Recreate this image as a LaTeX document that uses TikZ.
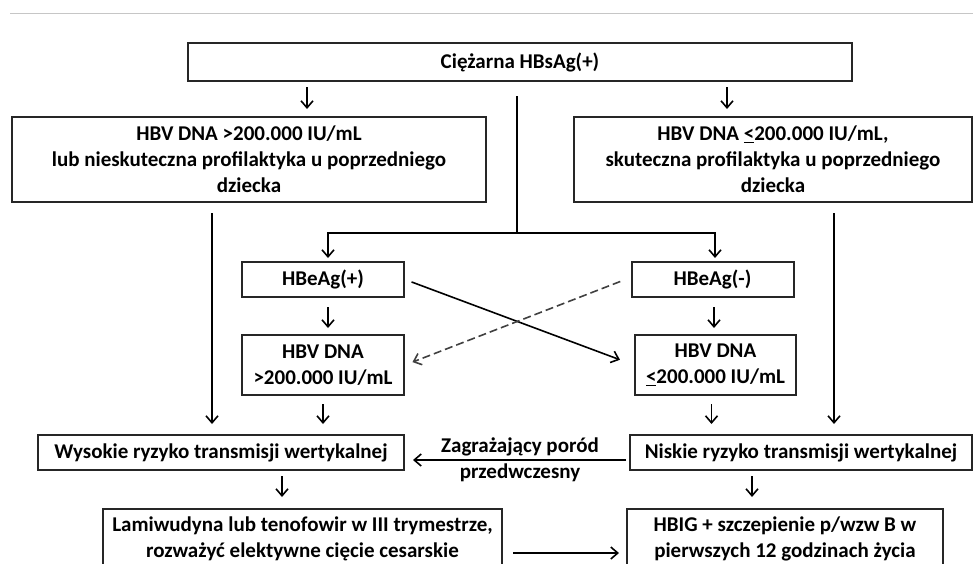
\documentclass[tikz,border=0pt]{standalone}
\usepackage{fontspec}
\setmainfont{Carlito}
\usetikzlibrary{arrows.meta}

\begin{document}
\begin{tikzpicture}[x=1pt, y=-1pt,
	box/.style={draw=black!85, line width=2pt, align=center, inner sep=0pt,
		font=\fontsize{21}{26}\selectfont\bfseries},
	arr/.style={line width=1.6pt, -{Straight Barb[length=7pt, width=12pt, line width=1.6pt]}},
	link/.style={line width=1.6pt}]
	\clip (0,0) rectangle (973,563);
	\draw [gray!45, line width=1pt] (10,13) -- (973,13);
	
	% boxes
	\node [box, minimum width=664, minimum height=38] (top) at (520,62) {Ciężarna HBsAg(+)};
	\node [box, minimum width=474, minimum height=85] (lbox) at (249,159.5)
		{HBV DNA >200.000 IU/mL\\lub nieskuteczna profilaktyka u poprzedniego\\dziecka};
	\node [box, minimum width=398, minimum height=85] (rbox) at (773,159.5)
		{HBV DNA \underline{<}200.000 IU/mL,\\skuteczna profilaktyka u poprzedniego\\dziecka};
	\node [box, minimum width=162, minimum height=35] (hbep) at (323,279.5) {HBeAg(+)};
	\node [box, minimum width=162, minimum height=35] (hben) at (712.5,279.5) {HBeAg(-)};
	\node [box, minimum width=162, minimum height=60] (dnahi) at (323,365) {HBV DNA\\>200.000 IU/mL};
	\node [box, minimum width=161, minimum height=60] (dnalo) at (715.5,365) {HBV DNA\\\underline{<}200.000 IU/mL};
	\node [box, minimum width=366, minimum height=35] (wys) at (221,452.5) {Wysokie ryzyko transmisji wertykalnej};
	\node [box, minimum width=342, minimum height=35] (nis) at (801,452.5) {Niskie ryzyko transmisji wertykalnej};
	\node [box, minimum width=399, minimum height=75, text depth=18pt] (lam) at (302.5,546.5)
		{Lamiwudyna lub tenofowir w III trymestrze,\\rozważyć elektywne cięcie cesarskie};
	\node [box, minimum width=316, minimum height=75, text depth=18pt] (hbig) at (785,546.5)
		{HBIG + szczepienie p/wzw B w\\pierwszych 12 godzinach życia};
	
	% from the top box
	\draw [arr, shorten <=5pt, shorten >=7pt] ([xshift=-213pt]top.south) -- ([xshift=-213pt]top.south |- lbox.north);
	\draw [arr, shorten <=5pt, shorten >=7pt] ([xshift=207pt]top.south) -- ([xshift=207pt]top.south |- rbox.north);
	\coordinate (split) at (517,233);
	\draw [link] ([xshift=-3pt, yshift=-14pt]top.south) -- (split);
	\draw [arr, shorten >=3pt] (split) -| ([xshift=5pt]hbep.north);
	\draw [arr, shorten >=3pt] (split) -| ([xshift=2.5pt]hben.north);
	
	% HBeAg branches
	\draw [arr, shorten <=9pt, shorten >=6pt] ([xshift=5pt]hbep.south) -- ([xshift=5pt]hbep.south |- dnahi.north);
	\draw [arr, shorten <=9pt, shorten >=6pt] ([xshift=1.5pt]hben.south) -- ([xshift=1.5pt]hben.south |- dnalo.north);
	\draw [arr, shorten <=7pt, shorten >=15pt] (hbep.east) -- (dnalo.west);
	\draw [arr, dashed, dash pattern=on 8pt off 4pt, draw=black!75,
		shorten <=11pt, shorten >=8pt] ([yshift=2pt]hben.west) -- (dnahi.east);
	
	% down to the risk boxes
	\draw [arr, shorten <=10pt, shorten >=10pt] ([xshift=-37pt]lbox.south) -- ([xshift=-37pt]lbox.south |- wys.north);
	\draw [arr, shorten <=8pt, shorten >=10pt] (dnahi.south) -- (dnahi.south |- wys.north);
	\draw [arr, shorten <=8pt, shorten >=10pt] ([xshift=-4pt]dnalo.south) -- ([xshift=-4pt]dnalo.south |- nis.north);
	\draw [arr, shorten <=10pt, shorten >=10pt] ([xshift=61pt]rbox.south) -- ([xshift=61pt]rbox.south |- wys.north);
	\draw [arr, shorten <=3pt, shorten >=8pt] ([yshift=-7.5pt]nis.west) -- ([yshift=-7.5pt]nis.west -| wys.east)
		node [midway, above=0pt, xshift=3pt, font=\fontsize{21}{25}\selectfont\bfseries] {Zagrażający poród}
		node [midway, below=-0.5pt, xshift=3pt, font=\fontsize{21}{25}\selectfont\bfseries] {przedwczesny};
	
	% to the treatment boxes
	\draw [arr, shorten <=5pt, shorten >=11pt] ([xshift=61pt]wys.south) -- ([xshift=61pt]wys.south |- lam.north);
	\draw [arr, shorten <=5pt, shorten >=11pt] ([xshift=-49pt]nis.south) -- ([xshift=-49pt]nis.south |- hbig.north);
	\draw [arr, shorten <=10pt, shorten >=7pt] ([yshift=-6.5pt]lam.east) -- ([yshift=-6.5pt]lam.east -| hbig.west);
\end{tikzpicture}
\end{document}
